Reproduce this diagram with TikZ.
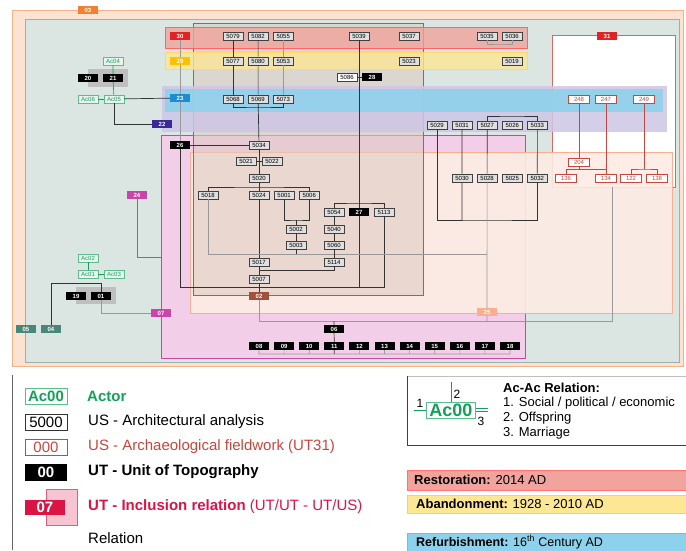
\documentclass[tikz,border=0pt]{standalone}
\usepackage{fontspec}
\setmainfont{Liberation Sans}
\usepackage{tikz}
\usetikzlibrary{positioning}
\definecolor{sitepeach}{RGB}{252,226,208}
\definecolor{siteline}{RGB}{243,178,135}
\definecolor{sitegrey}{RGB}{219,230,226}
\definecolor{greyline}{RGB}{150,180,170}
\definecolor{zonered}{RGB}{241,163,157}
\definecolor{zoneyellow}{RGB}{253,230,148}
\definecolor{zoneblue}{RGB}{140,210,236}
\definecolor{zonepurple}{RGB}{206,198,230}
\definecolor{zonepink}{RGB}{242,206,232}
\definecolor{zonepeach}{RGB}{253,236,228}
\definecolor{zonebrown}{RGB}{222,204,196}
\definecolor{labred}{RGB}{225,35,35}
\definecolor{labyellow}{RGB}{255,192,0}
\definecolor{labblue}{RGB}{30,140,205}
\definecolor{labpurple}{RGB}{60,40,150}
\definecolor{labmagenta}{RGB}{200,70,170}
\definecolor{labbrown}{RGB}{160,80,60}
\definecolor{laborange}{RGB}{240,130,50}
\definecolor{labsalmon}{RGB}{248,175,145}
\definecolor{labteal}{RGB}{75,135,118}
\definecolor{actorgreen}{RGB}{20,160,90}
\definecolor{fieldred}{RGB}{200,70,60}
\definecolor{crimson}{RGB}{220,20,70}

\begin{document}
\begin{tikzpicture}[x=1pt, y=-1pt, node distance=25.1pt, font=\fontsize{6}{7}\selectfont]
    % Define styles
    \tikzstyle{zone} = [line width=0.6pt]
    \tikzstyle{zonetag} = [rectangle, minimum width=20pt, minimum height=8pt, inner sep=0pt, text=white, font=\fontsize{6}{6}\selectfont\bfseries]
    \tikzstyle{usbox} = [rectangle, draw=black!75, fill=black!12, minimum width=20pt, minimum height=8.5pt, inner sep=0pt]
    \tikzstyle{utbox} = [zonetag, fill=black]
    \tikzstyle{fieldbox} = [rectangle, draw=fieldred, fill=white, text=fieldred, minimum width=21pt, minimum height=8.5pt, inner sep=0pt]
    \tikzstyle{actor} = [rectangle, draw=actorgreen!70, fill=actorgreen!10, text=actorgreen, minimum width=20pt, minimum height=8.5pt, inner sep=0pt]
    \tikzstyle{link} = [draw=black!80, line width=0.7pt]
    \tikzstyle{softlink} = [draw=black!40, line width=0.6pt]
    \tikzstyle{fieldlink} = [draw=fieldred, line width=0.6pt]
    \tikzstyle{actorlink} = [draw=actorgreen, line width=0.6pt]
    \tikzstyle{legtext} = [anchor=west, inner sep=0pt, font=\fontsize{15}{15}\selectfont]
    \tikzstyle{bartext} = [anchor=west, inner sep=0pt, font=\fontsize{13}{13}\selectfont]

    \useasboundingbox (0,0) rectangle (686,550);

    % Zones, back to front
    \draw [zone, draw=siteline, fill=sitepeach] (12,10) rectangle (683,366);
    \draw [zone, draw=greyline, fill=sitegrey] (25,19) rectangle (679,362);
    \draw [zone, draw=fieldred!80, fill=white] (552,35) rectangle (675,187);
    \draw [zone, draw=labmagenta, fill=zonepink] (161,135) rectangle (525,358);
    \draw [zone, draw=labsalmon, fill=zonepeach, fill opacity=0.9] (190,152) -- (672,152) -- (672,313) -- (190,313) -- cycle;
    \draw [zone, draw=black!55, fill=zonebrown, fill opacity=0.6] (193,23) rectangle (423,295);
    \draw [zone, draw=red!60, fill=zonered, fill opacity=0.8] (165,27) rectangle (527,48);
    \draw [zone, draw=labyellow!60, fill=zoneyellow, fill opacity=0.8] (165,52) rectangle (527,69);
    \fill [zonepurple, fill opacity=0.85] (162,86) rectangle (667,132);
    \fill [zoneblue, fill opacity=0.85] (165,89) rectangle (663,112);
    \fill [black!25] (88,69) rectangle (128,87);
    \fill [black!25] (76,287) rectangle (116,304);

    % Zone labels
    \node [zonetag, fill=laborange] (z03) at (88,10) {03};
    \node [zonetag, fill=labred] (z30) at (180,36) {30};
    \node [zonetag, fill=labyellow] (z29) at (180,61) {29};
    \node [zonetag, fill=labblue] (z23) at (180,98) {23};
    \node [zonetag, fill=labpurple] (z22) at (162,124) {22};
    \node [utbox] (z26) at (180,145) {26};
    \node [zonetag, fill=labmagenta] (z24) at (137,195) {24};
    \node [zonetag, fill=labmagenta] (z07) at (161,313) {07};
    \node [zonetag, fill=labbrown] (z02) at (259,296) {02};
    \node [zonetag, fill=labsalmon] (z25) at (487,312) {25};
    \node [zonetag, fill=labred] (z31) at (607,36) {31};
    \node [zonetag, fill=labteal] (z05) at (26,329) {05};
    \node [zonetag, fill=labteal] (z04) at (51,329) {04};

    % Actors and topography units (left)
    \node [actor] (ac04) at (113,61) {Ac04};
    \node [utbox] (t20) at (88,78) {20};
    \node [utbox] (t21) at (113,78) {21};
    \node [actor] (ac06) at (88,99) {Ac06};
    \node [actor] (ac05) at (114,99) {Ac05};
    \node [actor] (ac02) at (88,258) {Ac02};
    \node [actor] (ac01) at (88,274) {Ac01};
    \node [actor] (ac03) at (114,274) {Ac03};
    \node [utbox] (t19) at (76,296) {19};
    \node [utbox] (t01) at (101,296) {01};

    % Architectural units (US)
    \node [usbox] (u5079) at (233,36) {5079};
    \node [usbox, right of=u5079] (u5082) {5082};
    \node [usbox, right of=u5082] (u5055) {5055};
    \node [usbox] (u5039) at (359,36) {5039};
    \node [usbox] (u5037) at (409,36) {5037};
    \node [usbox] (u5035) at (487,36) {5035};
    \node [usbox, right of=u5035] (u5036) {5036};
    \node [usbox] (u5077) at (233,61) {5077};
    \node [usbox, right of=u5077] (u5080) {5080};
    \node [usbox, right of=u5080] (u5053) {5053};
    \node [usbox] (u5023) at (409,61) {5023};
    \node [usbox] (u5019) at (512,61) {5019};
    \node [usbox, fill=white] (u5086) at (347,77) {5086};
    \node [utbox] (t28) at (372,77) {28};
    \node [usbox] (u5068) at (233,99) {5068};
    \node [usbox, right of=u5068] (u5069) {5069};
    \node [usbox, right of=u5069] (u5073) {5073};
    \node [usbox] (u5029) at (437,125) {5029};
    \node [usbox, right of=u5029] (u5031) {5031};
    \node [usbox, right of=u5031] (u5027) {5027};
    \node [usbox, right of=u5027] (u5026) {5026};
    \node [usbox, right of=u5026] (u5033) {5033};
    \node [usbox] (u5034) at (259,145) {5034};
    \node [usbox] (u5021) at (246,161) {5021};
    \node [usbox] (u5022) at (272,161) {5022};
    \node [usbox] (u5020) at (259,178) {5020};
    \node [usbox] (u5030) at (462,178) {5030};
    \node [usbox, right of=u5030] (u5028) {5028};
    \node [usbox, right of=u5028] (u5025) {5025};
    \node [usbox, right of=u5025] (u5032) {5032};
    \node [usbox] (u5018) at (208,195) {5018};
    \node [usbox] (u5024) at (259,195) {5024};
    \node [usbox, right of=u5024] (u5001) {5001};
    \node [usbox, right of=u5001] (u5006) {5006};
    \node [usbox] (u5054) at (334,212) {5054};
    \node [utbox] (t27) at (359,212) {27};
    \node [usbox] (u5113) at (384,212) {5113};
    \node [usbox] (u5002) at (296,229) {5002};
    \node [usbox] (u5040) at (334,229) {5040};
    \node [usbox] (u5003) at (296,245) {5003};
    \node [usbox] (u5060) at (334,245) {5060};
    \node [usbox] (u5017) at (259,262) {5017};
    \node [usbox] (u5114) at (334,262) {5114};
    \node [usbox] (u5007) at (259,279) {5007};

    % Archaeological fieldwork units (UT31)
    \node [fieldbox] (f248) at (579,99) {248};
    \node [fieldbox] (f247) at (606,99) {247};
    \node [fieldbox] (f249) at (644,99) {249};
    \node [fieldbox] (f204) at (579,162) {204};
    \node [fieldbox] (f136) at (566,178) {136};
    \node [fieldbox] (f134) at (606,178) {134};
    \node [fieldbox] (f122) at (631,178) {122};
    \node [fieldbox] (f138) at (657,178) {138};

    % Bottom row of topography units
    \node [utbox] (t06) at (334,329) {06};
    \node [utbox] (t08) at (259,346) {08};
    \node [utbox, right of=t08] (t09) {09};
    \node [utbox, right of=t09] (t10) {10};
    \node [utbox, right of=t10] (t11) {11};
    \node [utbox, right of=t11] (t12) {12};
    \node [utbox, right of=t12] (t13) {13};
    \node [utbox, right of=t13] (t14) {14};
    \node [utbox, right of=t14] (t15) {15};
    \node [utbox, right of=t15] (t16) {16};
    \node [utbox, right of=t16] (t17) {17};
    \node [utbox, right of=t17] (t18) {18};

    % Junction points
    \coordinate (j5068) at (259,107);
    \coordinate (j5035) at (500,44);
    \coordinate (j5027) at (512,116);
    \coordinate (j5020) at (259,187);
    \coordinate (j5002) at (296,220);
    \coordinate (j5018) at (487,254);
    \coordinate (j5054) at (359,203);
    \coordinate (j5017) at (259,270);
    \coordinate (j26) at (180,287);
    \coordinate (j5113) at (384,287);
    \coordinate (j5030) at (487,220);
    \coordinate (j02) at (259,321);
    \coordinate (j25) at (612,321);
    \coordinate (j31) at (612,187);
    \coordinate (j08) at (259,354);
    \coordinate (j18) at (510,354);
    \coordinate (j204) at (579,169);
    \coordinate (j134) at (606,169);
    \coordinate (j249) at (644,169);
    \coordinate (j04) at (101,283);
    \coordinate (j24) at (161,257);

    % Actor relations
    \draw [actorlink] (ac04) -- (t21) -- (ac05);
    \draw [actorlink] (ac06) -- (ac05);
    \draw [actorlink] (ac02) -- (ac01);
    \draw [actorlink] (ac01) -- (ac03);
    \draw [link] (ac05) -- (z23);
    \draw [link] (ac05) |- (z22);
    \draw [link] (z04) |- (j04) -- (t01);
    \draw [softlink] (t01) |- (z07);
    \draw [draw=labmagenta, line width=0.6pt] (z24) |- (j24);

    % Stratigraphic relations
    \draw [softlink] (z30) -- (z29) -- (z23) -- (z26);
    \draw [link] (z26) -- (j26) -- (j5113) -- (u5113);
    \draw [link, line width=1pt] (z26) -- (u5034);
    \draw [link] (u5079) -- (u5077) -- (u5068);
    \draw [link] (u5082) -- (u5080) -- (u5069) -- (u5034);
    \draw [softlink] (u5055) -- (u5053) -- (u5073);
    \draw [link] (u5068) |- (j5068) -| (u5073);
    \draw [softlink] (u5035) |- (j5035) -| (u5036);
    \draw [link] (u5039) -- (t27);
    \draw [link] (t27) -- (t27 |- j26);
    \draw [link] (u5086) -- (t28);
    \draw [link] (u5034) -- (u5020);
    \draw [link] (u5021) -- (u5022);
    \draw [link] (u5020) -- (u5024) -- (u5017) -- (u5007) -- (z02);
    \draw [link] (u5018) |- (j5020) -| (u5006);
    \draw [link] (u5001) |- (j5002) -| (u5006);
    \draw [link] (j5002) -- (u5002) -- (u5003) -- (u5003 |- j5018);
    \draw [softlink] (u5018) |- (j5018);
    \draw [link] (u5054) |- (j5054) -| (u5113);
    \draw [link] (u5054) -- (u5040) -- (u5060) -- (u5114);
    \draw [link] (u5114) |- (j5017);
    \draw [link] (u5027) |- (j5027) -| (u5033);
    \draw [link] (u5029) |- (j5030) -| (u5032);
    \draw [link] (u5033) -- (u5032);
    \draw [link] (u5031) -- (u5030) -- (u5030 |- j5030);
    \draw [link] (u5027) -- (u5028);
    \draw [softlink] (u5028) -- (z25) -- (z25 |- j02);
    \draw [softlink] (z02) -- (j02) -- (j25) -- (j31);

    % Field relations (UT31)
    \draw [fieldlink] (f248) -- (f204) -- (j204);
    \draw [fieldlink] (f136) |- (j134);
    \draw [fieldlink] (f247) -- (f134);
    \draw [fieldlink] (f249) -- (j249);
    \draw [fieldlink] (f122) |- (j249) -| (f138);

    % Bottom row relations
    \draw [link] (j02 -| t06) -- (t06) -- (t11) -- (t11 |- j08);
    \draw [softlink] (t08) -- (j08) -- (j18) -- (t18)
        (t09) -- (t09 |- j08) (t10) -- (t10 |- j08) (t12) -- (t12 |- j08)
        (t13) -- (t13 |- j08) (t14) -- (t14 |- j08) (t15) -- (t15 |- j08)
        (t16) -- (t16 |- j08) (t17) -- (t17 |- j08);

    % Legend: unit types
    \draw [black!60, line width=0.8pt] (12,375) -- (12,550);
    \node [rectangle, draw=actorgreen!70, text=actorgreen, minimum width=42pt, minimum height=16pt, inner sep=0pt, font=\fontsize{15}{15}\selectfont\bfseries] (k1) at (46,396) {Ac00};
    \node [legtext, text=actorgreen, font=\fontsize{15}{15}\selectfont\bfseries] (k1t) at (87,396) {Actor};
    \node [rectangle, draw=black!80, minimum width=42pt, minimum height=16pt, inner sep=0pt, font=\fontsize{15}{15}\selectfont] (k2) at (46,422) {5000};
    \node [legtext] (k2t) at (88,422) {US - Architectural analysis};
    \node [rectangle, draw=fieldred, text=fieldred, minimum width=42pt, minimum height=16pt, inner sep=0pt, font=\fontsize{15}{15}\selectfont] (k3) at (46,447) {000};
    \node [legtext, text=fieldred] (k3t) at (88,447) {US - Archaeological fieldwork (UT31)};
    \node [rectangle, fill=black, text=white, minimum width=42pt, minimum height=17pt, inner sep=0pt, font=\fontsize{15}{15}\selectfont\bfseries] (k4) at (46,472) {00};
    \node [legtext, font=\fontsize{15}{15}\selectfont\bfseries] (k4t) at (88,472) {UT - Unit of Topography};
    \draw [draw=crimson!70, fill=crimson!35, fill opacity=0.7] (46,489) rectangle (77,525);
    \node [rectangle, fill=crimson, text=white, minimum width=40pt, minimum height=15pt, inner sep=0pt, font=\fontsize{15}{15}\selectfont\bfseries] (k5) at (45,507) {07};
    \node [legtext, text=crimson] (k5t) at (88,507) {\textbf{UT - Inclusion relation} (UT/UT - UT/US)};
    \node [legtext] (k6t) at (88,538) {Relation};

    % Legend: actor relations
    \draw [black!25, line width=0.6pt] (407,376) -- (686,376);
    \draw [black!75, line width=0.9pt] (407,376) -- (407,445) -- (686,445);
    \node [rectangle, draw=actorgreen!70, text=actorgreen, minimum width=49pt, minimum height=16pt, inner sep=0pt, font=\fontsize{18}{18}\selectfont\bfseries] (kac) at (451,410) {Ac00};
    \coordinate (kr1) at (414,410);
    \coordinate (kr2) at (451,382);
    \coordinate (kr3) at (488,410);
    \draw [actorlink] (kr1) -- (kac.west |- kr1);
    \draw [actorlink] (kr2) -- (kac.north -| kr2);
    \draw [actorlink] ([yshift=-1.5pt]kac.east) -- ([yshift=-1.5pt]kr3);
    \draw [actorlink] ([yshift=1.5pt]kac.east) -- ([yshift=1.5pt]kr3);
    \node [font=\fontsize{12}{12}\selectfont] at (420,403) {1};
    \node [font=\fontsize{12}{12}\selectfont] at (457,394) {2};
    \node [font=\fontsize{12}{12}\selectfont] at (481,421) {3};
    \node [bartext, font=\fontsize{13}{13}\selectfont\bfseries] (kh) at (503,388) {Ac-Ac Relation:};
    \node [bartext] (kl1) at (503,403) {1. Social / political / economic};
    \node [bartext] (kl2) at (503,418) {2. Offspring};
    \node [bartext] (kl3) at (503,433) {3. Marriage};

    % Legend: periods
    \draw [draw=red!55, fill=zonered] (407,470) rectangle (690,490);
    \node [bartext] (kp1) at (414,480) {\textbf{Restoration:} 2014 AD};
    \draw [draw=labyellow!70, fill=zoneyellow] (407,495) rectangle (690,513);
    \node [bartext] (kp2) at (416,504) {\textbf{Abandonment:} 1928 - 2010 AD};
    \draw [draw=labblue!60, fill=zoneblue] (407,533) rectangle (690,553);
    \node [bartext, font=\fontsize{12.5}{12.5}\selectfont] (kp3) at (416,542) {\textbf{Refurbishment:} 16\textsuperscript{th} Century AD};
\end{tikzpicture}
\end{document}
